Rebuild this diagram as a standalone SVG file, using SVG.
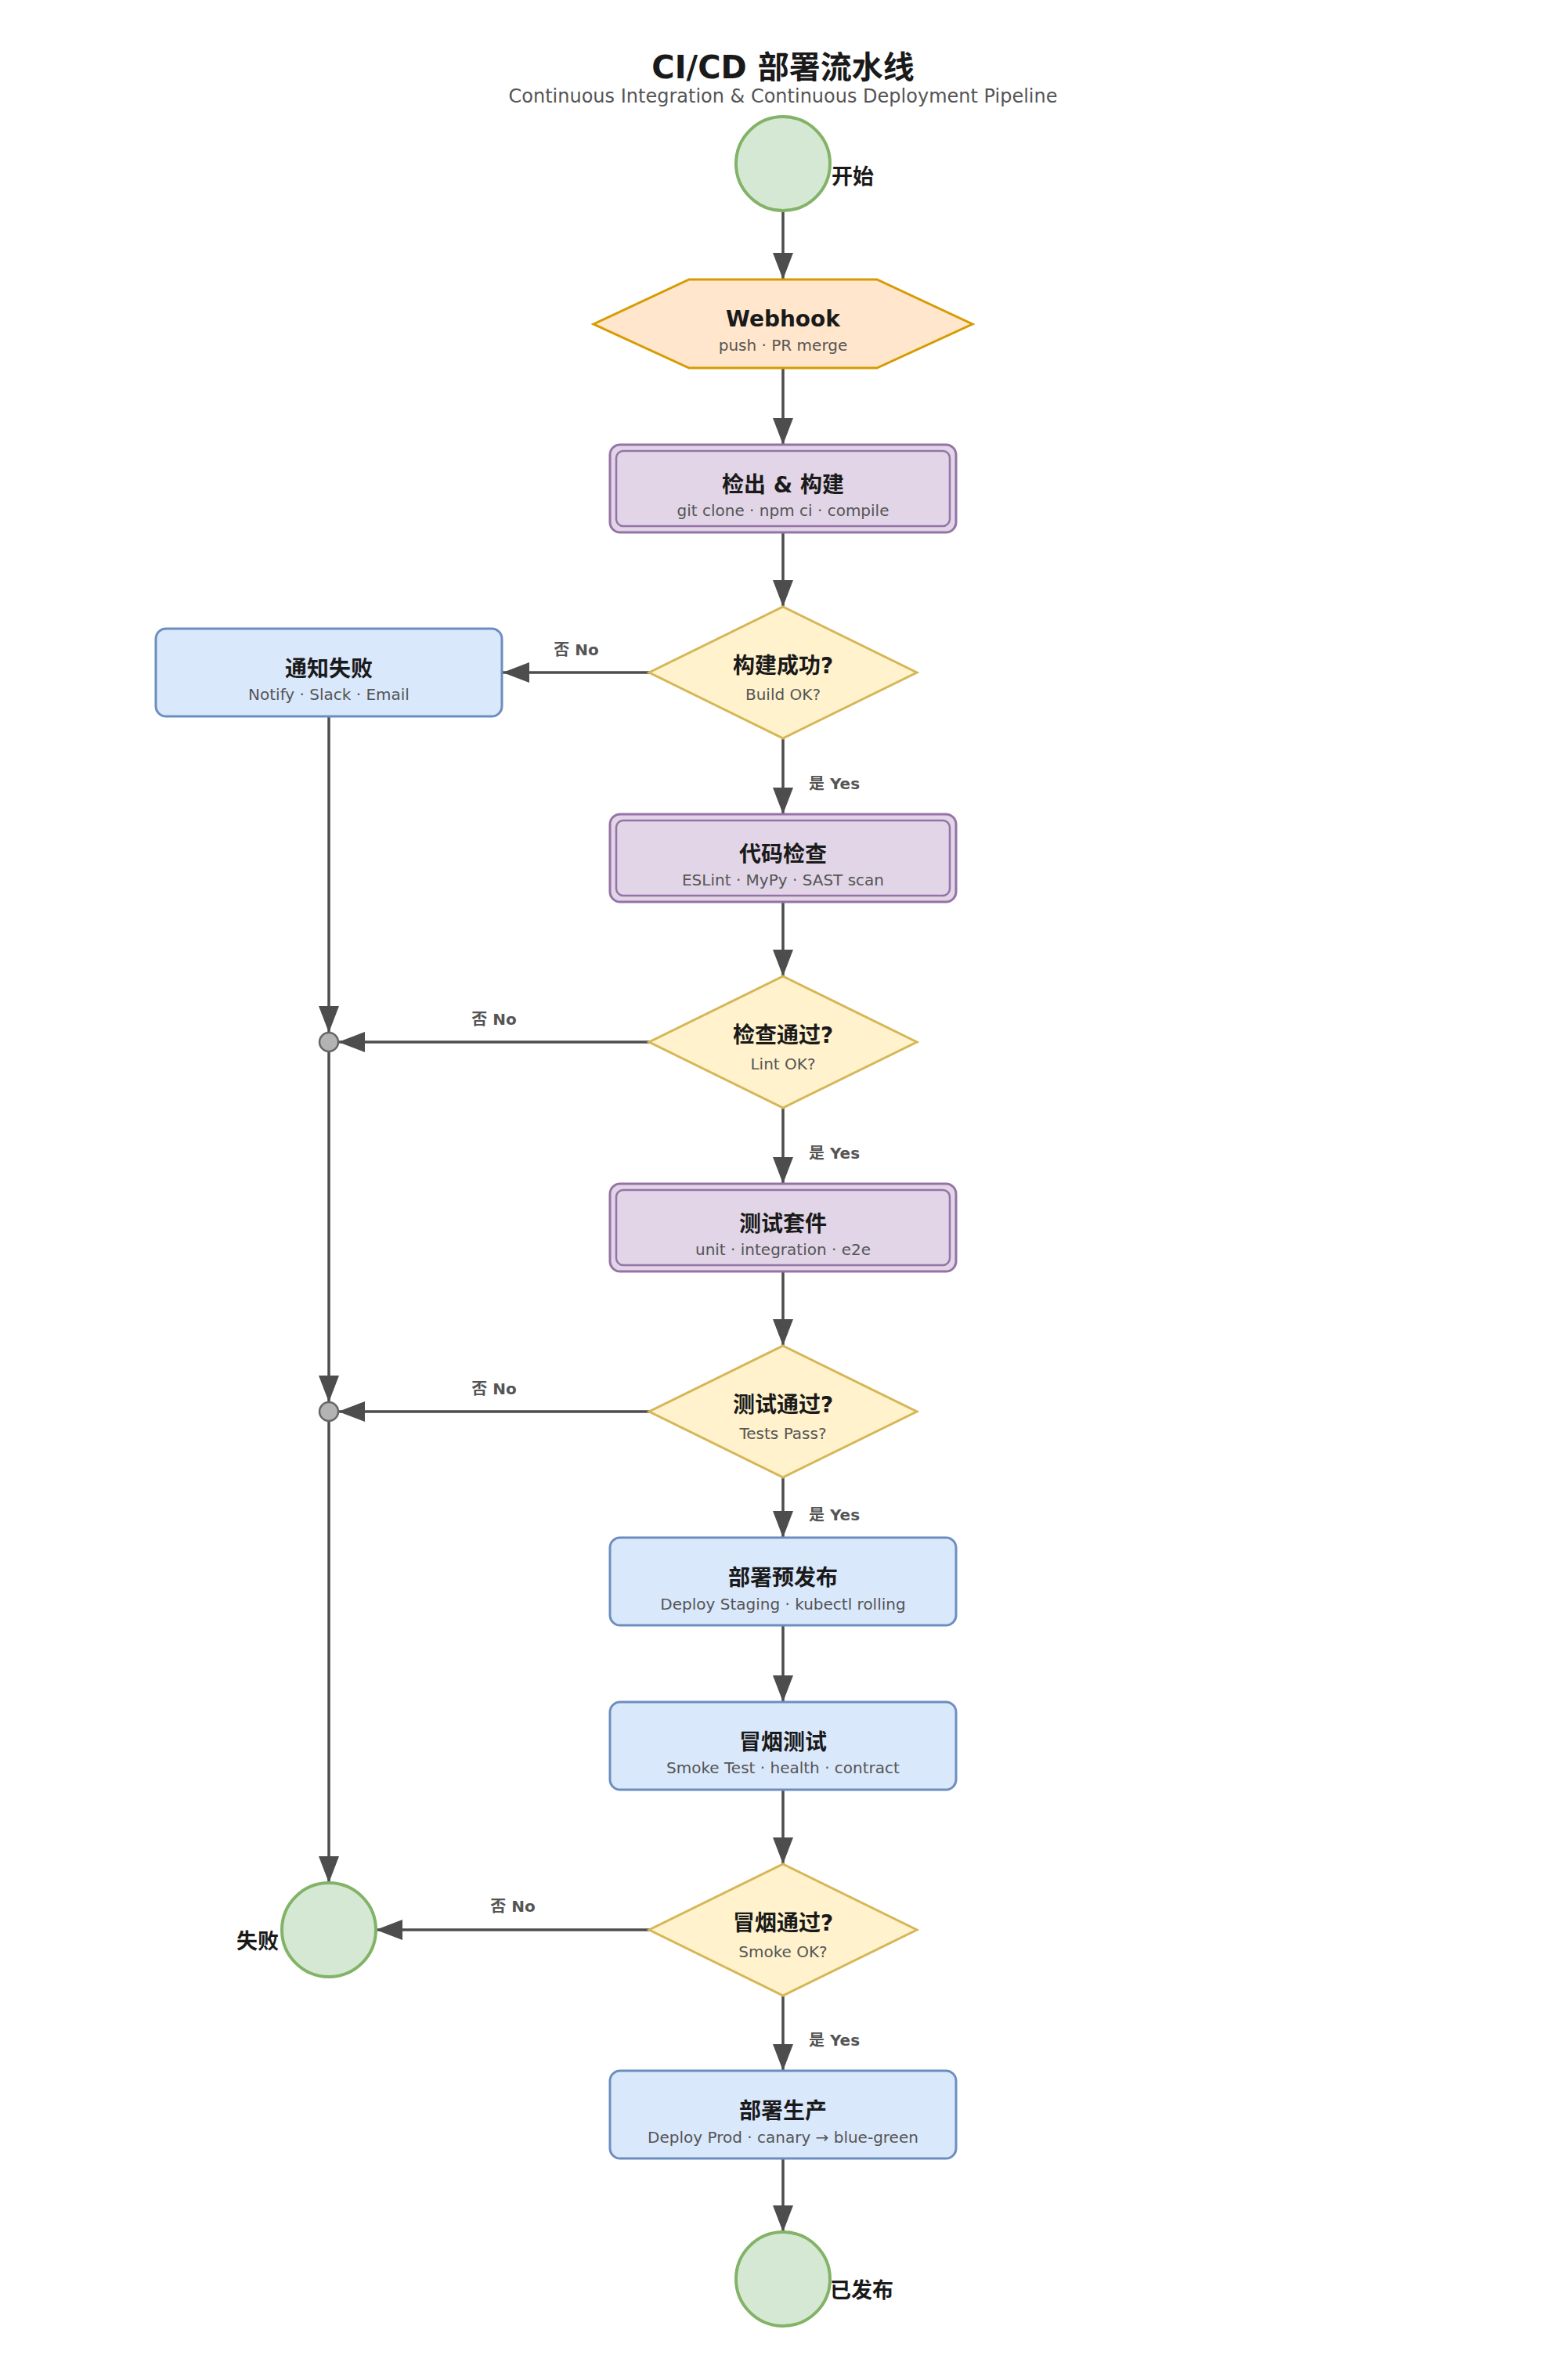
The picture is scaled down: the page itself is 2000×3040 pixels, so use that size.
<svg xmlns="http://www.w3.org/2000/svg" width="2000" height="3040" viewBox="0 0 2000 3040">
<style>
text{font-family:"DejaVu Sans","Noto Sans CJK SC",sans-serif;text-anchor:middle}
.title{font-size:40px;font-weight:bold;fill:#1a1a1a}
.subtitle{font-size:24px;fill:#555}
.t{font-size:28px;font-weight:bold;fill:#1a1a1a}
.s{font-size:20px;fill:#555}
.lbl{font-size:27px;font-weight:bold;fill:#1a1a1a}
.el{font-size:20px;font-weight:bold;fill:#555}
.term{fill:#d5e8d4;stroke:#82b366;stroke-width:4}
.hex{fill:#ffe6cc;stroke:#d79b00;stroke-width:3}
.proc{fill:#e1d5e7;stroke:#9673a6;stroke-width:3}
.proc2{fill:none;stroke:#9673a6;stroke-width:2.5}
.blue{fill:#dae8fc;stroke:#6c8ebf;stroke-width:3}
.dec{fill:#fff2cc;stroke:#d6b656;stroke-width:3}
.junc{fill:#b3b3b3;stroke:#666;stroke-width:2.5}
.edge{stroke:#4d4d4d;stroke-width:3.5;fill:none;marker-end:url(#arr)}
</style>
<defs>
<marker id="arr" markerUnits="userSpaceOnUse" markerWidth="34" markerHeight="26" refX="34" refY="13" orient="auto">
<path d="M0,0 L34,13 L0,26 Z" fill="#4d4d4d"/>
</marker>
</defs>
<rect width="2000" height="3040" fill="#ffffff"/>
<g id="header">
<text class="title" x="1000" y="100">CI/CD 部署流水线</text>
<text class="subtitle" x="1000" y="131">Continuous Integration &amp; Continuous Deployment Pipeline</text>
</g>
<g id="edges">
<line class="edge" x1="1000" y1="269" x2="1000" y2="357"/>
<line class="edge" x1="1000" y1="470" x2="1000" y2="568"/>
<line class="edge" x1="1000" y1="680" x2="1000" y2="775"/>
<line class="edge" x1="1000" y1="943" x2="1000" y2="1040"/>
<line class="edge" x1="830" y1="859" x2="642" y2="859"/>
<line class="edge" x1="420" y1="915" x2="420" y2="1319"/>
<line class="edge" x1="1000" y1="1152" x2="1000" y2="1247"/>
<line class="edge" x1="830" y1="1331" x2="432" y2="1331"/>
<line class="edge" x1="1000" y1="1415" x2="1000" y2="1512"/>
<line class="edge" x1="420" y1="1343" x2="420" y2="1791"/>
<line class="edge" x1="1000" y1="1624" x2="1000" y2="1719"/>
<line class="edge" x1="830" y1="1803" x2="432" y2="1803"/>
<line class="edge" x1="1000" y1="1887" x2="1000" y2="1964"/>
<line class="edge" x1="420" y1="1815" x2="420" y2="2405"/>
<line class="edge" x1="1000" y1="2076" x2="1000" y2="2174"/>
<line class="edge" x1="1000" y1="2286" x2="1000" y2="2381"/>
<line class="edge" x1="830" y1="2465" x2="480" y2="2465"/>
<line class="edge" x1="1000" y1="2549" x2="1000" y2="2645"/>
<line class="edge" x1="1000" y1="2757" x2="1000" y2="2851"/>
<text class="el" x="736" y="837">否 No</text>
<text class="el" x="631" y="1309">否 No</text>
<text class="el" x="631" y="1781">否 No</text>
<text class="el" x="655" y="2442">否 No</text>
<text class="el" x="1033" y="1008" style="text-anchor:start">是 Yes</text>
<text class="el" x="1033" y="1480" style="text-anchor:start">是 Yes</text>
<text class="el" x="1033" y="1942" style="text-anchor:start">是 Yes</text>
<text class="el" x="1033" y="2613" style="text-anchor:start">是 Yes</text>
</g>
<g id="start">
<circle class="term" cx="1000" cy="209" r="60"/>
<text class="lbl" x="1062" y="235" style="text-anchor:start">开始</text>
</g>
<g id="webhook">
<polygon class="hex" points="758,414 880,357 1120,357 1242,414 1120,470 880,470"/>
<text class="t" x="1000" y="417">Webhook</text>
<text class="s" x="1000" y="448">push · PR merge</text>
</g>
<g id="build">
<rect class="proc" x="779" y="568" width="442" height="112" rx="13"/>
<rect class="proc2" x="787" y="576" width="426" height="96" rx="9"/>
<text class="t" x="1000" y="629">检出 &amp; 构建</text>
<text class="s" x="1000" y="659">git clone · npm ci · compile</text>
</g>
<g id="build_ok">
<polygon class="dec" points="1000,775 1171,859 1000,943 829,859"/>
<text class="t" x="1000" y="860">构建成功?</text>
<text class="s" x="1000" y="894">Build OK?</text>
</g>
<g id="notify">
<rect class="blue" x="199" y="803" width="442" height="112" rx="13"/>
<text class="t" x="420" y="864">通知失败</text>
<text class="s" x="420" y="894">Notify · Slack · Email</text>
</g>
<g id="lint">
<rect class="proc" x="779" y="1040" width="442" height="112" rx="13"/>
<rect class="proc2" x="787" y="1048" width="426" height="96" rx="9"/>
<text class="t" x="1000" y="1101">代码检查</text>
<text class="s" x="1000" y="1131">ESLint · MyPy · SAST scan</text>
</g>
<g id="lint_ok">
<polygon class="dec" points="1000,1247 1171,1331 1000,1415 829,1331"/>
<text class="t" x="1000" y="1332">检查通过?</text>
<text class="s" x="1000" y="1366">Lint OK?</text>
</g>
<g id="junction1">
<circle class="junc" cx="420" cy="1331" r="12"/>
</g>
<g id="tests">
<rect class="proc" x="779" y="1512" width="442" height="112" rx="13"/>
<rect class="proc2" x="787" y="1520" width="426" height="96" rx="9"/>
<text class="t" x="1000" y="1573">测试套件</text>
<text class="s" x="1000" y="1603">unit · integration · e2e</text>
</g>
<g id="tests_ok">
<polygon class="dec" points="1000,1719 1171,1803 1000,1887 829,1803"/>
<text class="t" x="1000" y="1804">测试通过?</text>
<text class="s" x="1000" y="1838">Tests Pass?</text>
</g>
<g id="junction2">
<circle class="junc" cx="420" cy="1803" r="12"/>
</g>
<g id="staging">
<rect class="blue" x="779" y="1964" width="442" height="112" rx="13"/>
<text class="t" x="1000" y="2025">部署预发布</text>
<text class="s" x="1000" y="2056">Deploy Staging · kubectl rolling</text>
</g>
<g id="smoke">
<rect class="blue" x="779" y="2174" width="442" height="112" rx="13"/>
<text class="t" x="1000" y="2235">冒烟测试</text>
<text class="s" x="1000" y="2265">Smoke Test · health · contract</text>
</g>
<g id="smoke_ok">
<polygon class="dec" points="1000,2381 1171,2465 1000,2549 829,2465"/>
<text class="t" x="1000" y="2466">冒烟通过?</text>
<text class="s" x="1000" y="2500">Smoke OK?</text>
</g>
<g id="fail">
<circle class="term" cx="420" cy="2465" r="60"/>
<text class="lbl" x="356" y="2489" style="text-anchor:end">失败</text>
</g>
<g id="prod">
<rect class="blue" x="779" y="2645" width="442" height="112" rx="13"/>
<text class="t" x="1000" y="2706">部署生产</text>
<text class="s" x="1000" y="2737">Deploy Prod · canary → blue-green</text>
</g>
<g id="released">
<circle class="term" cx="1000" cy="2911" r="60"/>
<text class="lbl" x="1060" y="2935" style="text-anchor:start">已发布</text>
</g>
</svg>
